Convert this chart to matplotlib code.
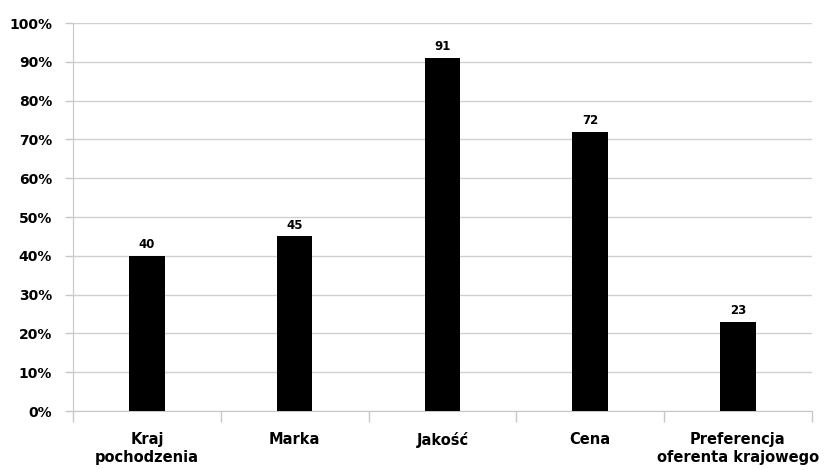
import numpy as np
import matplotlib.pyplot as plt

plt.rcParams['font.family'] = ['DejaVu Sans']

categories = ['Kraj\npochodzenia', 'Marka', 'Jakość', 'Cena', 'Preferencja\noferenta krajowego']
values = [40, 45, 91, 72, 23]
yticks = [0, 10, 20, 30, 40, 50, 60, 70, 80, 90, 100]

fig = plt.figure(figsize=(8.25, 4.7), dpi=100)
ax = fig.add_axes([0.0885, 0.1255, 0.8955, 0.8255])

x = np.arange(len(categories))
bars = ax.bar(x, values, width=0.24, color='black', zorder=3)

for xi, v in zip(x, values):
    ax.text(xi, v + 1.2, str(v), ha='center', va='bottom', fontsize=8.5, fontweight='bold')

ax.set_xlim(-0.5, len(categories) - 0.5)
ax.set_ylim(0, 100)
ax.set_yticks(yticks)
ax.set_yticklabels([f'{t}%' for t in yticks], fontsize=10, fontweight='bold')
ax.set_xticks(x)
ax.set_xticklabels(categories, fontsize=10.5, fontweight='bold', linespacing=1.3)
ax.set_xticks(np.arange(-0.5, len(categories)), minor=True)

ax.tick_params(axis='x', which='major', length=0, pad=15)
ax.tick_params(axis='x', which='minor', length=8, color='#c8c8c8', width=1)
ax.tick_params(axis='y', length=6, color='#c8c8c8', width=1, pad=9)

ax.yaxis.grid(True, color='#d0d0d0', linewidth=1, zorder=0)
for side in ['top', 'right']:
    ax.spines[side].set_visible(False)
ax.spines['left'].set_color('#c8c8c8')
ax.spines['bottom'].set_color('#c8c8c8')

plt.savefig('out.png', dpi=100)
